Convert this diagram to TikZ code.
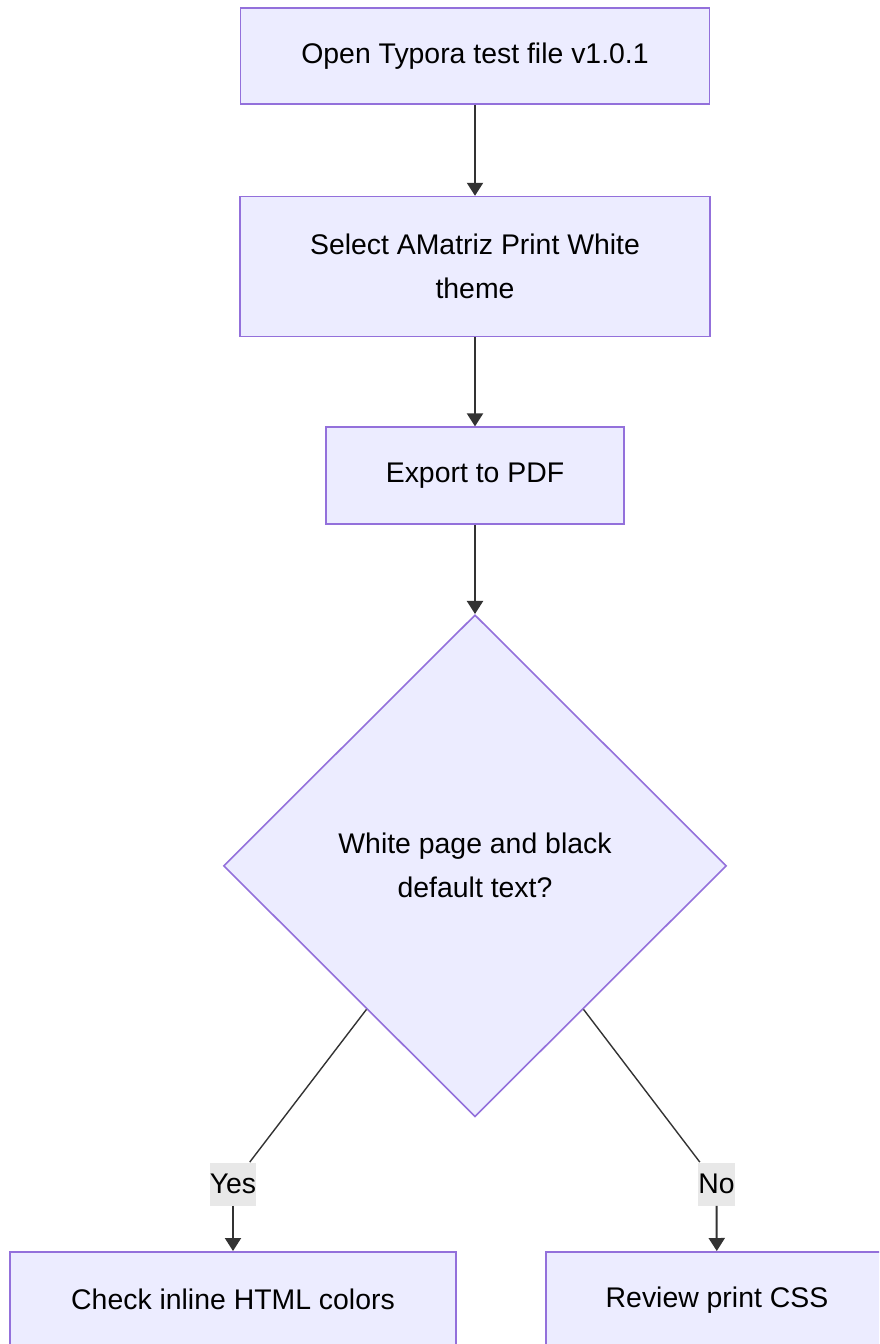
\documentclass[tikz,border=0pt]{standalone}
\usepackage{fontspec}
\setmainfont{Liberation Sans}
\usetikzlibrary{shapes.geometric, positioning, arrows.meta, calc}
\definecolor{boxfill}{HTML}{ECECFF}
\definecolor{boxline}{HTML}{9370DB}
\definecolor{edgeline}{HTML}{333333}
\definecolor{labelfill}{HTML}{E8E8E8}
\tikzset{
>={Triangle[length=6.5pt,width=8pt]}, % filled arrow heads
node distance=44.5pt, % gap between the boxes of the main chain
every node/.style={font=\fontsize{14.2}{22}\selectfont},
process/.style={draw=boxline, fill=boxfill, line width=0.8pt, inner sep=0pt, align=center}, % plain steps
decision/.style={diamond, draw=boxline, fill=boxfill, line width=0.8pt, inner sep=0pt, align=center, minimum width=251.5pt, minimum height=251pt}, % the question
answer/.style={fill=labelfill, inner sep=0pt, minimum height=21.5pt}, % yes / no labels
flow/.style={->, draw=edgeline, line width=1pt},
branch/.style={draw=edgeline, line width=0.7pt},
}
\begin{document}
\begin{tikzpicture}
        \useasboundingbox (0,0) rectangle (439.5pt,-672pt);
        \clip (0,0) rectangle (439.5pt,-672pt);

        \node[process, minimum width=234.5pt, minimum height=48pt] (open) at (237.5pt,-28pt) {Open Typora test file v1.0.1};
        \node[process, minimum width=235pt, minimum height=70pt, below=45.5pt of open] (select) {Select AMatriz Print White\\theme};
        \node[process, minimum width=149pt, minimum height=48.5pt, below=of select] (export) {Export to PDF};
        \node[decision, below=of export] (check) {White page and black\\default text?};
        \node[process, minimum width=223pt, minimum height=48pt, anchor=north] (inline) at (116.5pt,-625.5pt) {Check inline HTML colors};
        \node[process, minimum width=171pt, minimum height=48pt, anchor=north] (review) at (358.5pt,-625.5pt) {Review print CSS};
        \node[answer] (yes) at (116.5pt,-592pt) {Yes};
        \node[answer] (no) at (358.25pt,-592pt) {No};

        \coordinate (yesfoot) at ($(check.west)!0.57!(check.south)$);
        \coordinate (nofoot) at ($(check.east)!0.57!(check.south)$);

        \draw[flow] (open) -- (select);
        \draw[flow] (select) -- (export);
        \draw[flow] (export) -- (check);
        \draw[branch] (yesfoot) -- (yes);
        \draw[flow] (yes) -- (inline);
        \draw[branch] (nofoot) -- (no);
        \draw[flow] (no) -- (review);
      \end{tikzpicture}
\end{document}
